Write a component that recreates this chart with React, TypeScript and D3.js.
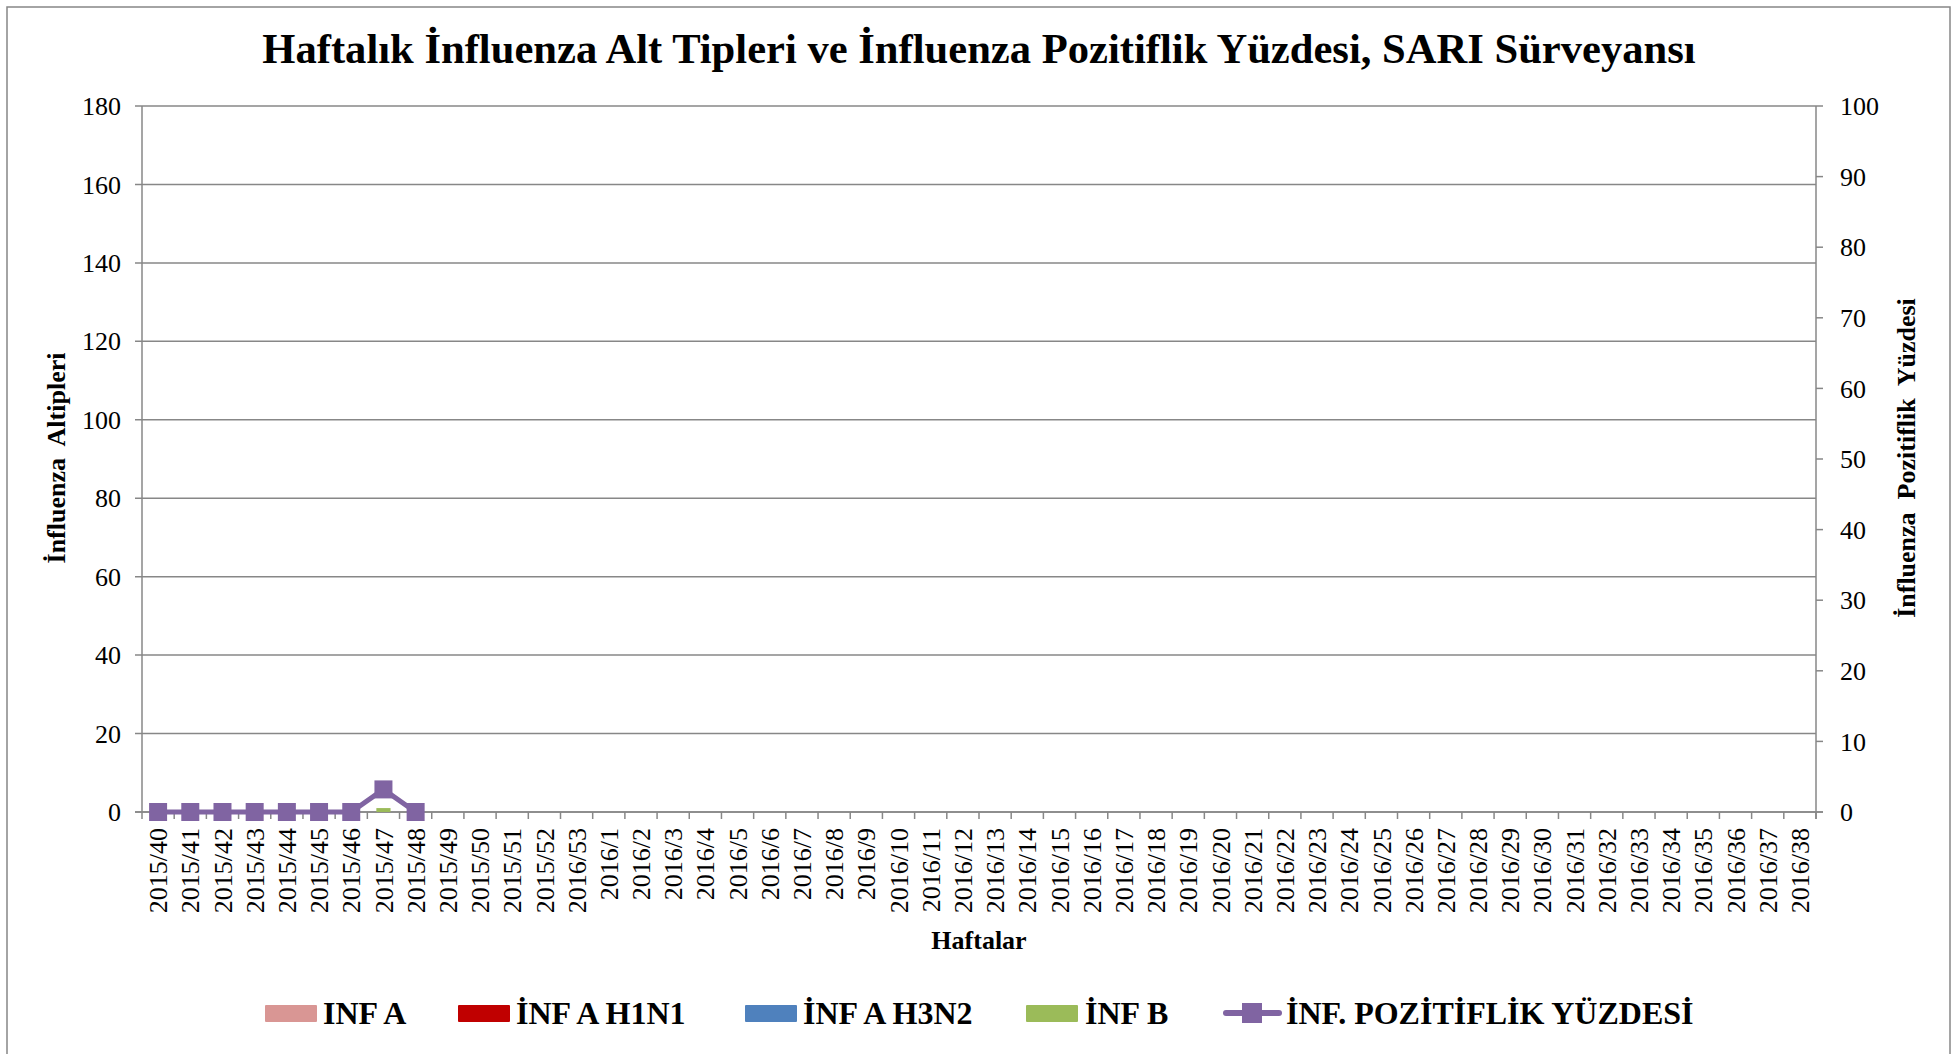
import React from "react";
import * as d3 from "d3";

const weeks = [
  "2015/40", "2015/41", "2015/42", "2015/43", "2015/44", "2015/45", "2015/46",
  "2015/47", "2015/48", "2015/49", "2015/50", "2015/51", "2015/52", "2016/53",
  "2016/1", "2016/2", "2016/3", "2016/4", "2016/5", "2016/6", "2016/7", "2016/8",
  "2016/9", "2016/10", "2016/11", "2016/12", "2016/13", "2016/14", "2016/15",
  "2016/16", "2016/17", "2016/18", "2016/19", "2016/20", "2016/21", "2016/22",
  "2016/23", "2016/24", "2016/25", "2016/26", "2016/27", "2016/28", "2016/29",
  "2016/30", "2016/31", "2016/32", "2016/33", "2016/34", "2016/35", "2016/36",
  "2016/37", "2016/38",
];

// only the first 9 weeks have data so far
const infA = [0, 0, 0, 0, 0, 0, 0, 0, 0];
const infAH1N1 = [0, 0, 0, 0, 0, 0, 0, 0, 0];
const infAH3N2 = [0, 0, 0, 0, 0, 0, 0, 0, 0];
const infB = [0, 0, 0, 0, 0, 0, 0, 1, 0];
const pozitiflik = [0, 0, 0, 0, 0, 0, 0, 3.2, 0];

const leftTicks = [0, 20, 40, 60, 80, 100, 120, 140, 160, 180];
const rightTicks = [0, 10, 20, 30, 40, 50, 60, 70, 80, 90, 100];

const barSeries = [
  { name: "INF A", values: infA, color: "#D99694" },
  { name: "İNF A H1N1", values: infAH1N1, color: "#C00000" },
  { name: "İNF A H3N2", values: infAH3N2, color: "#4F81BD" },
  { name: "İNF B", values: infB, color: "#9BBB59" },
];
const lineName = "İNF. POZİTİFLİK YÜZDESİ";
const lineColor = "#8064A2";

const FONT = "'Liberation Serif', 'Times New Roman', serif";
const GRID = "#878787";

export default function App() {
  const left = 142, right = 1816, top = 106, bottom = 812;

  const x = d3.scaleBand().domain(weeks).range([left, right]).padding(0);
  const yL = d3.scaleLinear().domain([0, 180]).range([bottom, top]);
  const yR = d3.scaleLinear().domain([0, 100]).range([bottom, top]);
  const bw = x.bandwidth();
  const barW = bw * 0.44;

  // stacked columns
  const bars: any[] = [];
  weeks.forEach((w, i) => {
    let acc = 0;
    barSeries.forEach((s) => {
      const v = s.values[i];
      if (v === undefined || v === 0) return;
      bars.push({
        key: s.name + w,
        x: x(w)! + bw / 2 - barW / 2,
        y: yL(acc + v),
        h: yL(acc) - yL(acc + v),
        color: s.color,
      });
      acc += v;
    });
  });

  const pts = pozitiflik.map((v, i) => [x(weeks[i])! + bw / 2, yR(v)] as [number, number]);
  const line = d3.line()(pts);

  const tickXs = weeks.map((w) => x(w)!).concat([right]);

  // legend layout
  const legendY = 1024;
  const legendItems = [
    { sx: 265, tx: 323 },
    { sx: 458, tx: 516 },
    { sx: 745, tx: 803 },
    { sx: 1026, tx: 1085 },
  ];

  return (
    <svg
      width={1953}
      height={1054}
      style={{ position: "absolute", left: 0, top: 0, background: "#fff" }}
      fontFamily={FONT}
    >
      <rect x={7} y={7} width={1943} height={1080} fill="#fff" stroke={GRID} strokeWidth={1.5} />

      <text x={979} y={63} textAnchor="middle" fontSize={42.6} fontWeight="bold">
        Haftalık İnfluenza Alt Tipleri ve İnfluenza Pozitiflik Yüzdesi, SARI Sürveyansı
      </text>

      {/* gridlines */}
      {leftTicks.map((t) => (
        <line key={"g" + t} x1={left - 7} x2={right} y1={yL(t)} y2={yL(t)} stroke={GRID} strokeWidth={1.5} />
      ))}
      <line x1={left} x2={left} y1={top} y2={bottom} stroke={GRID} strokeWidth={1.5} />
      <line x1={right} x2={right} y1={top} y2={bottom + 7} stroke={GRID} strokeWidth={1.5} />
      {rightTicks.map((t) => (
        <line key={"r" + t} x1={right} x2={right + 7} y1={yR(t)} y2={yR(t)} stroke={GRID} strokeWidth={1.5} />
      ))}
      <line x1={left - 7} x2={right + 7} y1={bottom} y2={bottom} stroke={GRID} strokeWidth={1.5} />
      {tickXs.map((tx, i) => (
        <line key={"xt" + i} x1={tx} x2={tx} y1={bottom} y2={bottom + 7} stroke={GRID} strokeWidth={1.5} />
      ))}

      {/* tick labels */}
      {leftTicks.map((t) => (
        <text key={"lt" + t} x={121} y={yL(t)} dy="0.35em" textAnchor="end" fontSize={26}>
          {t}
        </text>
      ))}
      {rightTicks.map((t) => (
        <text key={"rt" + t} x={1840} y={yR(t)} dy="0.35em" textAnchor="start" fontSize={26}>
          {t}
        </text>
      ))}
      {weeks.map((w) => (
        <text
          key={"xl" + w}
          transform={`translate(${x(w)! + bw / 2},828) rotate(-90)`}
          dy="0.35em"
          textAnchor="end"
          fontSize={26}
        >
          {w}
        </text>
      ))}

      {/* axis titles */}
      <text
        transform="translate(56,458) rotate(-90)"
        dy="0.35em"
        textAnchor="middle"
        fontSize={26}
        fontWeight="bold"
        style={{ whiteSpace: "pre" }}
      >
        {"İnfluenza  Altipleri"}
      </text>
      <text
        transform="translate(1906,458) rotate(-90)"
        dy="0.35em"
        textAnchor="middle"
        fontSize={26}
        fontWeight="bold"
        style={{ whiteSpace: "pre" }}
      >
        {"İnfluenza  Pozitiflik  Yüzdesi"}
      </text>
      <text x={979} y={940} dy="0.35em" textAnchor="middle" fontSize={26} fontWeight="bold">
        Haftalar
      </text>

      {/* bars */}
      {bars.map((b) => (
        <rect key={b.key} x={b.x} y={b.y} width={barW} height={b.h} fill={b.color} />
      ))}

      {/* line + markers */}
      <path d={line!} fill="none" stroke={lineColor} strokeWidth={5} strokeLinejoin="round" />
      {pts.map((p, i) => (
        <rect key={"m" + i} x={p[0] - 9} y={p[1] - 9} width={18} height={18} fill={lineColor} />
      ))}

      {/* legend */}
      {barSeries.map((s, i) => (
        <g key={"lg" + s.name}>
          <rect x={legendItems[i].sx} y={1005} width={52} height={17} fill={s.color} rx={1} />
          <text x={legendItems[i].tx} y={legendY} fontSize={32} fontWeight="bold">
            {s.name}
          </text>
        </g>
      ))}
      <line x1={1226} x2={1279} y1={1013} y2={1013} stroke={lineColor} strokeWidth={6} strokeLinecap="round" />
      <rect x={1242} y={1003} width={20} height={20} fill={lineColor} />
      <text x={1286} y={legendY} fontSize={32} fontWeight="bold">
        {lineName}
      </text>
    </svg>
  );
}
